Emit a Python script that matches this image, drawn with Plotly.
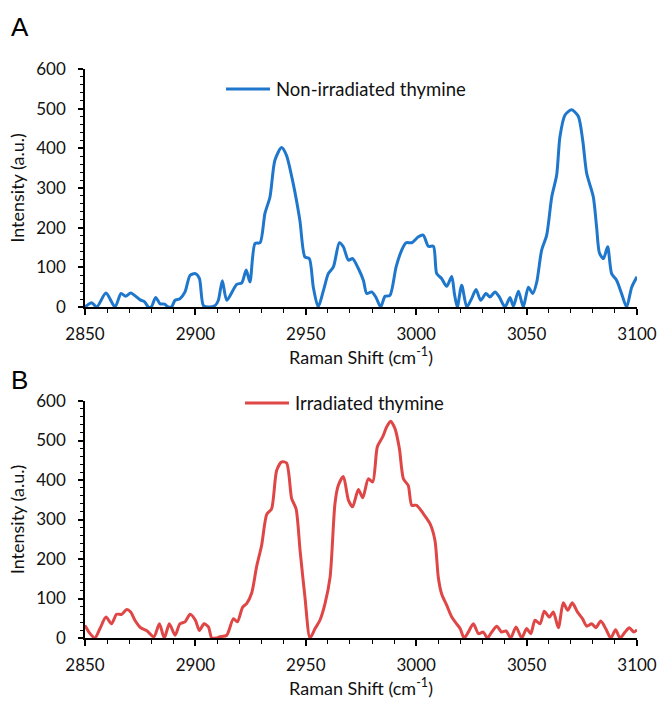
import plotly.graph_objects as go

# Panel A: Non-irradiated thymine
shift_a = [2850, 2853, 2855.3, 2859.5, 2863.6, 2866.3, 2868.4, 2870.7, 2875, 2877, 2878.7, 2880,
           2882, 2884, 2886, 2887.7, 2889.2, 2890.8, 2893, 2895.3, 2897.6, 2900, 2901.8, 2903.6,
           2905.9, 2909, 2910.4, 2912.2, 2914.2, 2918.7, 2921, 2923, 2924.7, 2927, 2929.3,
           2931.5, 2933.8, 2936, 2939, 2941.2, 2944.3, 2947.3, 2949.6, 2951.6, 2953.4, 2955.6,
           2958, 2960.2, 2962.5, 2965.2, 2967, 2969.3, 2971.2, 2973.8, 2976.1, 2977.6, 2979.8,
           2981.8, 2983.9, 2985.9, 2988.1, 2990.9, 2993.4, 2995.4, 2998, 3001, 3003.2, 3005.5,
           3007.8, 3009.3, 3011.5, 3013.8, 3016.1, 3017.3, 3018.6, 3020.6, 3022.9, 3025.1,
           3027.1, 3029.2, 3031.6, 3033.4, 3035.7, 3037.7, 3040.2, 3042.5, 3044, 3046.3, 3048.5,
           3050.8, 3052.8, 3054.6, 3056.8, 3059.1, 3061.4, 3063.6, 3065.1, 3067.4, 3070.4,
           3073.4, 3075.4, 3077.2, 3080.2, 3081.7, 3083, 3084.8, 3086.7, 3088.5, 3090.8, 3093,
           3095.3, 3097.6, 3100]
intensity_a = [0, 11, 0, 35, 0, 34, 27, 35, 18, 13, 0, 0,
               24, 8, 7, 0, 0, 17, 21, 38, 80, 84, 72, 4,
               0, 4, 17, 66, 17, 57, 61, 93, 63, 160, 162,
               236, 278, 370, 402, 383, 311, 219, 126, 122, 50, 0,
               42, 84, 101, 162, 152, 118, 122, 97, 67, 34, 38,
               24, 0, 27, 29, 101, 143, 162, 162, 177, 181, 153,
               153, 84, 72, 52, 77, 34, 0, 55, 0, 21,
               44, 17, 34, 25, 38, 25, 0, 24, 2, 40, 0,
               50, 34, 63, 143, 181, 278, 332, 429, 484, 497,
               481, 421, 337, 278, 202, 136, 122, 152, 84, 67, 34,
               0, 50, 76]

# Panel B: Irradiated thymine
shift_b = [2850, 2852.3, 2854.5, 2856.8, 2859.5, 2862, 2864.3, 2866.6, 2868.9, 2870.7, 2872.6,
           2875.2, 2877.9, 2881.2, 2883.7, 2885.9, 2888.2, 2890.8, 2893, 2895.3, 2897.6, 2900,
           2901.8, 2903.9, 2905.9, 2907.4, 2909.5, 2911.1, 2914.2, 2917.2, 2919, 2921.4, 2923.2,
           2925.5, 2927.7, 2930, 2932.3, 2934.5, 2936.8, 2939.1, 2941.3, 2943.6, 2945.6, 2947.4,
           2949.6, 2951.9, 2954.2, 2956.4, 2958.7, 2961, 2963.2, 2964.7, 2967, 2969.3, 2971.2,
           2973.8, 2975.8, 2978.3, 2980.3, 2982.4, 2984.8, 2986.6, 2988.4, 2990.4, 2992.4,
           2994.2, 2996.4, 2998, 3000.2, 3003.2, 3006.3, 3008.5, 3010, 3011.5, 3013.8, 3016.1,
           3018.3, 3019.9, 3021.7, 3023.6, 3025.9, 3028.2, 3030.4, 3032.2, 3034.2, 3036.5,
           3038.7, 3040.7, 3042.8, 3045.2, 3047.8, 3050, 3051.9, 3053.8, 3056.1, 3058, 3060.3,
           3062.1, 3064.4, 3066.6, 3068.6, 3070.7, 3073, 3075.3, 3077.2, 3079.5, 3081.4, 3083.6,
           3085.8, 3088.1, 3090.3, 3092.3, 3094.6, 3096.5, 3098.6, 3100]
intensity_b = [32, 11, 0, 24, 53, 36, 60, 60, 72, 66, 45,
               26, 19, 3, 36, 0, 36, 7, 36, 41, 60, 45,
               19, 36, 28, 0, 0, 3, 7, 49, 41, 78, 87,
               114, 180, 235, 313, 327, 424, 446, 443, 353, 327, 222,
               104, 0, 24, 45, 87, 154, 340, 386, 409, 349, 332,
               376, 355, 403, 395, 484, 509, 534, 549, 530, 479,
               403, 386, 336, 336, 315, 289, 247, 154, 112, 83, 53,
               36, 24, 0, 15, 36, 11, 15, 0, 15, 30,
               15, 18, 0, 28, 0, 24, 11, 45, 36, 68, 53,
               66, 26, 89, 70, 89, 66, 49, 30, 36, 26, 43,
               24, 0, 21, 0, 15, 26, 15, 21]

x_ticks = [2850, 2900, 2950, 3000, 3050, 3100]
y_ticks = [0, 100, 200, 300, 400, 500, 600]
series_names = ["Non-irradiated thymine", "Irradiated thymine"]

FONT = "Lato"
BLUE = "#1f77cc"
RED = "#df4646"
TXT = "#111111"

W, H = 661, 703
xdom = [85 / W, 637 / W]
ydomA = [1 - 307 / H, 1 - 69 / H]
ydomB = [1 - 638 / H, 1 - 401 / H]

fig = go.Figure()
fig.add_trace(go.Scatter(x=shift_a, y=intensity_a, mode="lines", name=series_names[0],
                         line=dict(color=BLUE, width=3, shape="spline", smoothing=0.7),
                         xaxis="x", yaxis="y", showlegend=False))
fig.add_trace(go.Scatter(x=shift_b, y=intensity_b, mode="lines", name=series_names[1],
                         line=dict(color=RED, width=3, shape="spline", smoothing=0.7),
                         xaxis="x2", yaxis="y2", showlegend=False))


def xaxis(dom, anchor):
    return dict(domain=dom, anchor=anchor, range=[2850, 3100], tickvals=x_ticks,
                ticks="outside", ticklen=6, tickwidth=1.5, tickcolor="black",
                showline=True, linecolor="black", linewidth=1.5, showgrid=False, zeroline=False,
                minor=dict(dtick=10, ticks="outside", ticklen=4, tickwidth=1.2, tickcolor="black", showgrid=False),
                tickfont=dict(family=FONT, size=17, color=TXT), ticklabelstandoff=5,
                automargin=False,
                title=dict(text="Raman Shift (cm<sup>-1</sup>)", font=dict(family=FONT, size=18, color=TXT), standoff=8))


def yaxis(dom, anchor):
    return dict(domain=dom, anchor=anchor, range=[0, 600], tickvals=y_ticks,
                ticks="outside", ticklen=5, tickwidth=1.5, tickcolor="black",
                showline=True, linecolor="black", linewidth=1.5, showgrid=False, zeroline=False,
                minor=dict(dtick=20, ticks="outside", ticklen=3, tickwidth=1.2, tickcolor="black", showgrid=False),
                tickfont=dict(family=FONT, size=17, color=TXT), ticklabelstandoff=9,
                automargin=False,
                title=dict(text="Intensity (a.u.)", font=dict(family=FONT, size=18, color=TXT), standoff=7))


# manual legends (line sample + label) placed inside each panel
legend_specs = [
    dict(x0=226, x1=270, y=89, color=BLUE, text=series_names[0], tx=274),
    dict(x0=245, x1=289, y=403, color=RED, text=series_names[1], tx=293),
]
shapes = []
annotations = []
for s in legend_specs:
    shapes.append(dict(type="line", xref="paper", yref="paper",
                       x0=s["x0"] / W, x1=s["x1"] / W, y0=1 - s["y"] / H, y1=1 - s["y"] / H,
                       line=dict(color=s["color"], width=3)))
    annotations.append(dict(text=s["text"], x=s["tx"] / W, y=1 - s["y"] / H, xref="paper", yref="paper",
                            xanchor="left", yanchor="middle", showarrow=False,
                            font=dict(family=FONT, size=18.5, color=TXT)))

annotations += [
    dict(text="A", x=9 / W, y=1 - 27 / H, xref="paper", yref="paper", xanchor="left", yanchor="middle",
         showarrow=False, font=dict(family="Liberation Sans", size=26, color="black")),
    dict(text="B", x=9 / W, y=1 - 380 / H, xref="paper", yref="paper", xanchor="left", yanchor="middle",
         showarrow=False, font=dict(family="Liberation Sans", size=26, color="black")),
]

fig.update_layout(
    width=W, height=H,
    margin=dict(l=0, r=0, t=0, b=0),
    paper_bgcolor="white", plot_bgcolor="white",
    xaxis=xaxis(xdom, "y"), yaxis=yaxis(ydomA, "x"),
    xaxis2=xaxis(xdom, "y2"), yaxis2=yaxis(ydomB, "x2"),
    showlegend=False,
    shapes=shapes,
    annotations=annotations,
)

fig.write_html("out.html", config={"displayModeBar": False},
               post_script="document.body.style.margin='0';document.body.style.padding='0';")
